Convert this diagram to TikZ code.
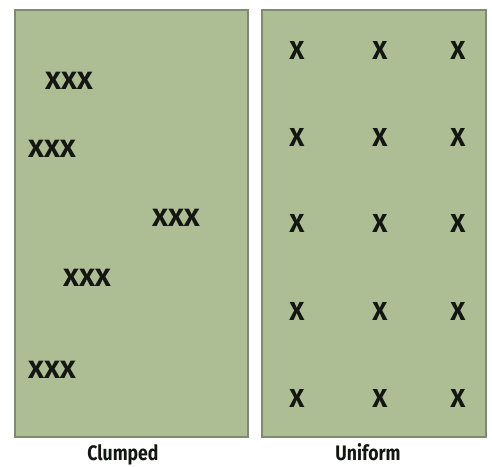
\documentclass[tikz,border=0pt]{standalone}
\usepackage{fontspec}
\setmainfont{Fira Sans}
\newfontfamily\widefont[FakeStretch=1.1]{Fira Sans}
\newfontfamily\narrowfont[FakeStretch=0.84]{Fira Sans}
\usepackage{tikz}
\usetikzlibrary{positioning}
\usepackage{xcolor}
\definecolor{fieldgreen}{RGB}{173,190,148}
\definecolor{fieldedge}{RGB}{128,138,112}
\definecolor{markblack}{RGB}{20,22,18}

\begin{document}
\begin{tikzpicture}[x=1pt, y=-1pt,
    field/.style={draw=fieldedge, line width=1.2pt, fill=fieldgreen},
    clump/.style={font=\widefont\fontsize{25}{25}\selectfont\bfseries, text=markblack, inner sep=0pt},
    single/.style={font=\fontsize{26}{26}\selectfont\bfseries, text=markblack, inner sep=0pt},
    caption/.style={font=\narrowfont\fontsize{21}{21}\selectfont\bfseries, text=markblack, inner sep=0pt, anchor=base}
]
    \useasboundingbox (0,0) rectangle (492,466);

    % Clumped field
    \draw[field] (15,10) rectangle (248,437);
    \node[clump] (c1) at (69,81) {XXX};
    \node[clump] (c2) at (52,149) {XXX};
    \node[clump] (c3) at (176,218) {XXX};
    \node[clump] (c4) at (87,278) {XXX};
    \node[clump] (c5) at (52,370) {XXX};
    \node[caption] (clumped) at (123,460) {Clumped};

    % Uniform field
    \draw[field] (262,10) rectangle (486,437);
    \foreach \row/\y in {1/50, 2/137, 3/223, 4/311, 5/398}
        \foreach \col/\x in {1/297, 2/380, 3/458}
            \node[single] (u\row\col) at (\x,\y) {X};
    \node[caption] (uniform) at (368,460) {Uniform};
\end{tikzpicture}
\end{document}
